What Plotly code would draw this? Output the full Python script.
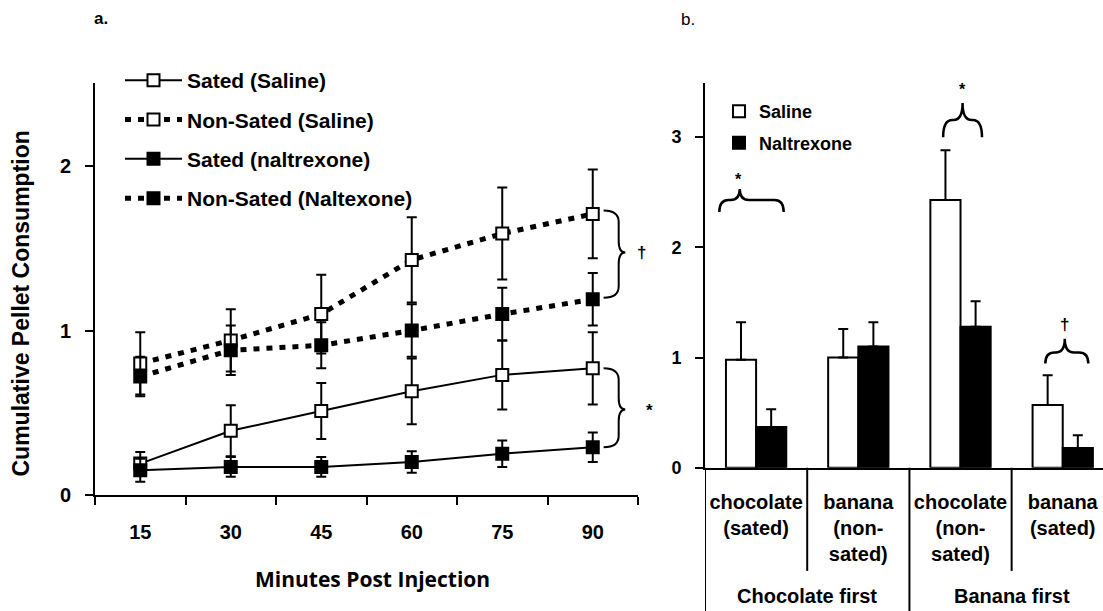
import plotly.graph_objects as go

# ---------------- data: panel a ----------------
minutes = [15, 30, 45, 60, 75, 90]
sated_saline = [0.19, 0.39, 0.51, 0.63, 0.73, 0.77]
sated_saline_err = [0.07, 0.155, 0.17, 0.20, 0.21, 0.22]
nonsated_saline = [0.80, 0.94, 1.10, 1.43, 1.59, 1.71]
nonsated_saline_err = [0.19, 0.19, 0.24, 0.26, 0.28, 0.27]
sated_nal = [0.15, 0.17, 0.17, 0.20, 0.25, 0.29]
sated_nal_err = [0.07, 0.06, 0.06, 0.065, 0.08, 0.09]
nonsated_nal = [0.72, 0.88, 0.91, 1.00, 1.10, 1.19]
nonsated_nal_err = [0.12, 0.15, 0.14, 0.16, 0.16, 0.16]
series_names = ["Sated (Saline)", "Non-Sated (Saline)", "Sated (naltrexone)", "Non-Sated (Naltexone)"]

# ---------------- data: panel b ----------------
food_labels = ["chocolate<br>(sated)", "banana<br>(non-<br>sated)",
               "chocolate<br>(non-<br>sated)", "banana<br>(sated)"]
order_groups = ["Chocolate first", "Banana first"]
saline = [0.98, 1.00, 2.43, 0.57]
saline_err = [0.34, 0.26, 0.45, 0.27]
naltrexone = [0.37, 1.10, 1.28, 0.18]
naltrexone_err = [0.16, 0.22, 0.23, 0.115]

W, H = 1103, 611          # reference frame used for positions
FIG_H = 623               # rendered figure height
def px(x):
    return x / W
def py(y):
    return 1 - y / H

FONT = "Liberation Sans, Arial, sans-serif"
fig = go.Figure()

def scatter(y, err, name, filled, dotted, gi):
    fig.add_trace(go.Scatter(
        x=minutes, y=y, name=name, mode="lines+markers",
        line=dict(color="black", width=5 if dotted else 2,
                  dash="6px,7px" if dotted else "solid"),
        marker=dict(symbol="square", size=12,
                    color="black" if filled else "white",
                    line=dict(color="black", width=2)),
        error_y=dict(type="data", array=err, color="black", thickness=2, width=5),
        legendgroup=f"g{gi}", legend="legend",
        xaxis="x", yaxis="y"))

scatter(sated_saline, sated_saline_err, series_names[0], False, False, 0)
scatter(nonsated_saline, nonsated_saline_err, series_names[1], False, True, 1)
scatter(sated_nal, sated_nal_err, series_names[2], True, False, 2)
scatter(nonsated_nal, nonsated_nal_err, series_names[3], True, True, 3)

xb = list(range(len(food_labels)))
fig.add_trace(go.Bar(
    x=xb, y=saline, name="Saline", legendgroup="b0",
    marker=dict(color="white", line=dict(color="black", width=2)),
    error_y=dict(type="data", array=saline_err, arrayminus=[0] * 4, symmetric=False,
                 color="black", thickness=2, width=5),
    xaxis="x2", yaxis="y2", legend="legend2"))
fig.add_trace(go.Bar(
    x=xb, y=naltrexone, name="Naltrexone", legendgroup="b1",
    marker=dict(color="black", line=dict(color="black", width=2)),
    error_y=dict(type="data", array=naltrexone_err, arrayminus=[0] * 4, symmetric=False,
                 color="black", thickness=2, width=5),
    xaxis="x2", yaxis="y2", legend="legend2"))

tickfont = dict(family=FONT, size=20, color="black", weight="bold")

fig.update_layout(
    width=W, height=FIG_H, autosize=False, margin=dict(l=0, r=0, t=0, b=0),
    paper_bgcolor="white", plot_bgcolor="white",
    barmode="group", bargap=0.41, bargroupgap=0,
    font=dict(family=FONT, color="black"),
    xaxis=dict(domain=[px(95), px(638)], range=[7.5, 97.5],
               tickvals=minutes, ticktext=[str(m) for m in minutes],
               ticks="", showline=True, linecolor="black", linewidth=2,
               showgrid=False, zeroline=False, tickfont=tickfont,
               ticklabelstandoff=18,
               minor=dict(tickvals=[7.5 + 15 * i for i in range(7)], ticks="outside",
                          ticklen=8, tickwidth=2, tickcolor="black", showgrid=False),
               anchor="y"),
    yaxis=dict(domain=[py(494), py(83)], range=[0, 2.506], tickvals=[0, 1, 2],
               ticks="outside", ticklen=8, tickwidth=2, tickcolor="black",
               showline=True, linecolor="black", linewidth=2, showgrid=False,
               zeroline=False, tickfont=tickfont, ticklabelstandoff=10, anchor="x"),
    xaxis2=dict(domain=[px(705), 1.0], range=[-0.5, 3.394],
                tickvals=xb, ticktext=food_labels, ticks="",
                showline=True, linecolor="black", linewidth=2, showgrid=False,
                zeroline=False, tickfont=dict(family=FONT, size=20, color="black", weight="bold"),
                ticklabelstandoff=15, anchor="y2"),
    yaxis2=dict(domain=[py(467), py(83)], range=[0, 3.49], tickvals=[0, 1, 2, 3],
                ticks="outside", ticklen=8, tickwidth=2, tickcolor="black",
                showline=True, linecolor="black", linewidth=2, showgrid=False,
                zeroline=False, tickfont=dict(family=FONT, size=18, color="black", weight="bold"),
                ticklabelstandoff=10, anchor="x2"),
    legend=dict(x=px(120), y=py(60), xanchor="left", yanchor="top",
                bgcolor="rgba(0,0,0,0)", tracegroupgap=9, itemwidth=57,
                font=dict(family=FONT, size=21, color="black", weight="bold")),
    legend2=dict(x=px(719), y=py(93), xanchor="left", yanchor="top",
                 bgcolor="rgba(0,0,0,0)", tracegroupgap=5, itemwidth=30,
                 font=dict(family=FONT, size=18, color="black", weight="bold")),
    showlegend=True,
)

shapes = []
def brace_right(x0, x1, xt, ytop, ybot, ymid, dy, xref, yref):
    d = (f"M{x0},{ytop} Q{x1},{ytop} {x1},{ytop - dy} L{x1},{ymid + dy} "
         f"Q{x1},{ymid} {xt},{ymid} Q{x1},{ymid} {x1},{ymid - dy} "
         f"L{x1},{ybot + dy} Q{x1},{ybot} {x0},{ybot}")
    shapes.append(dict(type="path", path=d, xref=xref, yref=yref,
                       line=dict(color="black", width=2)))

def brace_up(xl, xr, xc, ybot, yh, ytip, dx, xref, yref):
    d = (f"M{xl},{ybot} Q{xl},{yh} {xl + dx},{yh} L{xc - dx},{yh} "
         f"Q{xc},{yh} {xc},{ytip} Q{xc},{yh} {xc + dx},{yh} "
         f"L{xr - dx},{yh} Q{xr},{yh} {xr},{ybot}")
    shapes.append(dict(type="path", path=d, xref=xref, yref=yref,
                       line=dict(color="black", width=2.5)))

brace_right(91.8, 94.3, 95.4, 1.73, 1.20, 1.475, 0.07, "x", "y")
brace_right(91.8, 94.3, 95.4, 0.77, 0.29, 0.52, 0.07, "x", "y")

brace_up(-0.36, 0.27, -0.16, 2.32, 2.43, 2.53, 0.09, "x2", "y2")
brace_up(1.83, 2.21, 2.02, 3.0, 3.155, 3.31, 0.09, "x2", "y2")
brace_up(2.83, 3.25, 3.02, 0.945, 1.045, 1.17, 0.09, "x2", "y2")

# category dividers under the bar axis
for xv, ybottom in [(-0.5, 0.0), (0.5, py(570)), (1.5, 0.0), (2.5, py(570))]:
    shapes.append(dict(type="line", xref="x2", yref="paper", x0=xv, x1=xv,
                       y0=py(467), y1=ybottom, line=dict(color="black", width=2)))

fig.update_layout(shapes=shapes)

ann = []
def text(x, y, s, size, xref="paper", yref="paper", weight="bold", family=FONT, angle=0):
    ann.append(dict(x=x, y=y, xref=xref, yref=yref, text=s, showarrow=False,
                    textangle=angle, xanchor="center", yanchor="middle",
                    font=dict(family=family, size=size, color="black", weight=weight)))

text(px(101), py(18), "a.", 17)
text(px(688), py(19), "b.", 17, weight="normal")
text(px(21), py(303), "Cumulative Pellet Consumption", 23, angle=-90)
text(px(372), py(578), "Minutes Post Injection", 21, family="Open Sans, sans-serif", weight="bold")
text(px(641), py(252), "†", 17, weight="bold")
text(px(649), py(410), "*", 17)
text(-0.17, 2.62, "*", 16, xref="x2", yref="y2")
text(2.02, 3.43, "*", 16, xref="x2", yref="y2")
text(3.02, 1.30, "†", 17, xref="x2", yref="y2", weight="bold")
text(0.5, py(595), order_groups[0], 20, xref="x2")
text(2.5, py(595), order_groups[1], 20, xref="x2")
fig.update_layout(annotations=ann)

fig.write_html("out.html", config={"displayModeBar": False, "responsive": False},
               post_script="document.body.style.margin='0';")
